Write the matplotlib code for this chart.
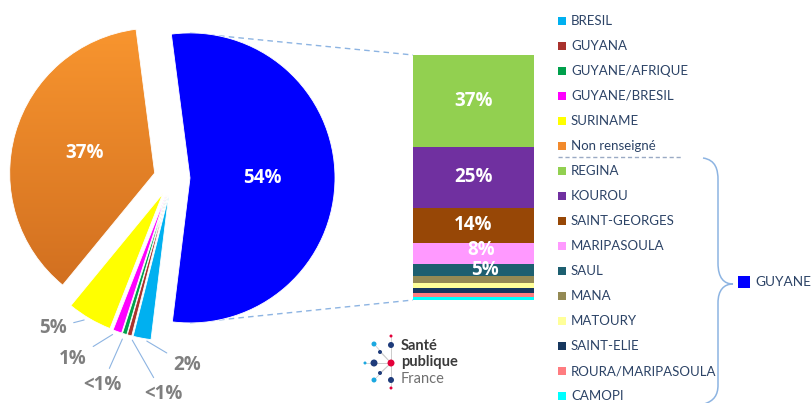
import numpy as np
import matplotlib
matplotlib.use('Agg')
import matplotlib.pyplot as plt
from matplotlib.patches import Rectangle, PathPatch, Circle
from matplotlib.path import Path
from matplotlib.colors import LinearSegmentedColormap

plt.rcParams['font.family'] = ['Lato', 'DejaVu Sans']
NUMFONT = ['Open Sans', 'DejaVu Sans']

# pie : origine des cas
pie_labels = ['BRESIL', 'GUYANA', 'GUYANE/AFRIQUE', 'GUYANE/BRESIL', 'SURINAME', 'Non renseigné', 'GUYANE']
pie_values = [2, 0.5, 0.5, 1, 5, 37, 54]
pie_texts = ['2%', '<1%', '<1%', '1%', '5%', '37%', '54%']
pie_colors = ['#00B0F0', '#A9322D', '#00A04C', '#FF00FF', '#FFFF00', '#F28A2C', '#0000FF']

# barre : communes de GUYANE
bar_labels = ['REGINA', 'KOUROU', 'SAINT-GEORGES', 'MARIPASOULA', 'SAUL', 'MANA',
              'MATOURY', 'SAINT-ELIE', 'ROURA/MARIPASOULA', 'CAMOPI']
bar_values = [37.4, 25, 14.3, 8.6, 4.9, 2.9, 2.0, 2.0, 1.6, 1.3]
bar_texts = ['37%', '25%', '14%', '8%', '5%', '', '', '', '', '']
bar_colors = ['#92D050', '#7030A0', '#974706', '#FF99FF', '#1D5F70', '#948A54',
              '#FFFF99', '#17375E', '#FF7C80', '#00FFFF']

W, H = 811, 403
LINE = '#8DB4E2'
TXT = '#2C4366'
GREY = '#7F7F7F'


def Y(y):
    # image row -> axes y
    return H - y


fig = plt.figure(figsize=(W / 100, H / 100), dpi=100)
ax = fig.add_axes([0, 0, 1, 1])

# ---- pie
R = 145
wedges, _ = ax.pie(pie_values, colors=pie_colors, startangle=-97, counterclock=False,
                   center=(172, Y(178)), radius=R, explode=[18] * len(pie_values),
                   wedgeprops=dict(linewidth=0.6, edgecolor='white'))

# gradient on the orange slice
orange = wedges[5]
orange.set_facecolor('none')
ocx, ocy = orange.center
grad = np.linspace(0, 1, 256).reshape(-1, 1)
cmap = LinearSegmentedColormap.from_list('og', ['#CC6A1E', '#F9962F'])
im = ax.imshow(grad, extent=[ocx - R - 5, ocx + 10, ocy - R - 5, ocy + R + 5],
               origin='lower', cmap=cmap, aspect='auto', zorder=0.5)
im.set_clip_path(orange)


def mid(w, frac):
    a = np.deg2rad((w.theta1 + w.theta2) / 2)
    cx, cy = w.center
    return cx + frac * w.r * np.cos(a), cy + frac * w.r * np.sin(a)


for i in (5, 6):
    x, y = mid(wedges[i], 0.5)
    ax.text(x, y, pie_texts[i], color='white', fontsize=13.5, fontweight='bold',
            family=NUMFONT, ha='center', va='center', zorder=5)

out_pos = [(187, 365), (163, 394), (102, 385), (73, 359), (53, 328)]
for i, (lx, ly) in enumerate(out_pos):
    ax.annotate(pie_texts[i], xy=mid(wedges[i], 1.0), xytext=(lx, Y(ly)),
                color=GREY, fontsize=13.5, fontweight='bold', family=NUMFONT,
                ha='center', va='center',
                arrowprops=dict(arrowstyle='-', color=LINE, lw=0.8, shrinkA=3, shrinkB=4))

# ---- bar
bx0, bx1, by0, by1 = 413, 534, 55, 300
bax = fig.add_axes([bx0 / W, Y(by1) / H, (bx1 - bx0) / W, (by1 - by0) / H])
bottom = 0
for v, c in zip(bar_values[::-1], bar_colors[::-1]):
    bax.bar(0, v, bottom=bottom, width=1, color=c, linewidth=0)
    bottom += v
bax.set_xlim(-0.5, 0.5)
bax.set_ylim(0, sum(bar_values))
bax.axis('off')
offs = [0, 0, 0, 0.065, 0.095]
ups = [0, 0, 0, 1.5, 0]
top = sum(bar_values)
for i, t in enumerate(bar_texts):
    if not t:
        continue
    yc = top - sum(bar_values[:i]) - bar_values[i] / 2 + ups[i]
    bax.text(offs[i], yc, t, color='white', fontsize=13.5, fontweight='bold',
             family=NUMFONT, ha='center', va='center')

# zoom lines from the blue slice to the bar
bcx, bcy = wedges[6].center
ax.plot([bcx, bx0], [bcy + R, Y(by0)], color=LINE, lw=1, ls=(0, (4, 3)), zorder=0.2)
ax.plot([bcx, bx0], [bcy - R, Y(by1)], color=LINE, lw=1, ls=(0, (4, 3)), zorder=0.2)

# ---- legend
leg_labels = pie_labels[:6] + bar_labels
leg_colors = pie_colors[:6] + bar_colors
for i, (lab, c) in enumerate(zip(leg_labels, leg_colors)):
    yy = 21 + 25 * i
    ax.add_patch(Rectangle((558, Y(yy) - 4), 8, 8, color=c, lw=0))
    ax.text(571, Y(yy), lab, color=TXT, fontsize=9.5, ha='left', va='center')
ax.plot([558, 682], [Y(157), Y(157)], color='#9AAAC4', lw=1, ls=(0, (3, 2)))

# brace for GUYANE
verts = [(703, 158), (716, 160), (718, 170), (718, 180),
         (718, 263),
         (718, 278), (724, 284), (733, 284),
         (724, 284), (718, 290), (718, 303),
         (718, 385),
         (718, 395), (714, 401), (704, 404)]
codes = [Path.MOVETO, Path.CURVE4, Path.CURVE4, Path.CURVE4,
         Path.LINETO,
         Path.CURVE4, Path.CURVE4, Path.CURVE4,
         Path.CURVE4, Path.CURVE4, Path.CURVE4,
         Path.LINETO,
         Path.CURVE4, Path.CURVE4, Path.CURVE4]
ax.add_patch(PathPatch(Path([(x, Y(y)) for x, y in verts], codes),
                       fc='none', ec=LINE, lw=1.1))
ax.add_patch(Rectangle((738, Y(288)), 12, 12, color=pie_colors[6], lw=0))
ax.text(755, Y(282), pie_labels[6], color=TXT, fontsize=9.8, ha='left', va='center')

# ---- logo Santé publique France
dots = [(391, 336, 1.5, '#E4003A'), (391, 345, 3, '#1E3B7A'), (374, 344, 2.5, '#1BA8E0'),
        (380, 352, 2, '#1E3B7A'), (365, 363, 1.5, '#1BA8E0'), (374, 363, 3.5, '#1E3B7A'),
        (391, 363, 3.5, '#E4003A'), (380, 373, 2, '#1E3B7A'), (374, 380, 2.5, '#1BA8E0'),
        (391, 380, 3, '#1E3B7A'), (391, 388, 1.5, '#E4003A')]
for x, y, r, c in dots:
    ax.plot([391, x], [Y(363), Y(y)], color='#C8C8C8', lw=0.5, zorder=1)
    ax.add_patch(Circle((x, Y(y)), r, color=c, lw=0, zorder=2))
ax.text(401, Y(346), 'Santé', color='#3A3A3A', fontsize=10.5, fontweight='bold', va='center')
ax.text(401, Y(362), 'publique', color='#3A3A3A', fontsize=10.5, fontweight='bold', va='center')
ax.text(401, Y(379), 'France', color='#707070', fontsize=10.5, va='center')

ax.set_xlim(0, W)
ax.set_ylim(0, H)
ax.set_aspect('auto')
ax.axis('off')

fig.savefig('out.png', dpi=100)
